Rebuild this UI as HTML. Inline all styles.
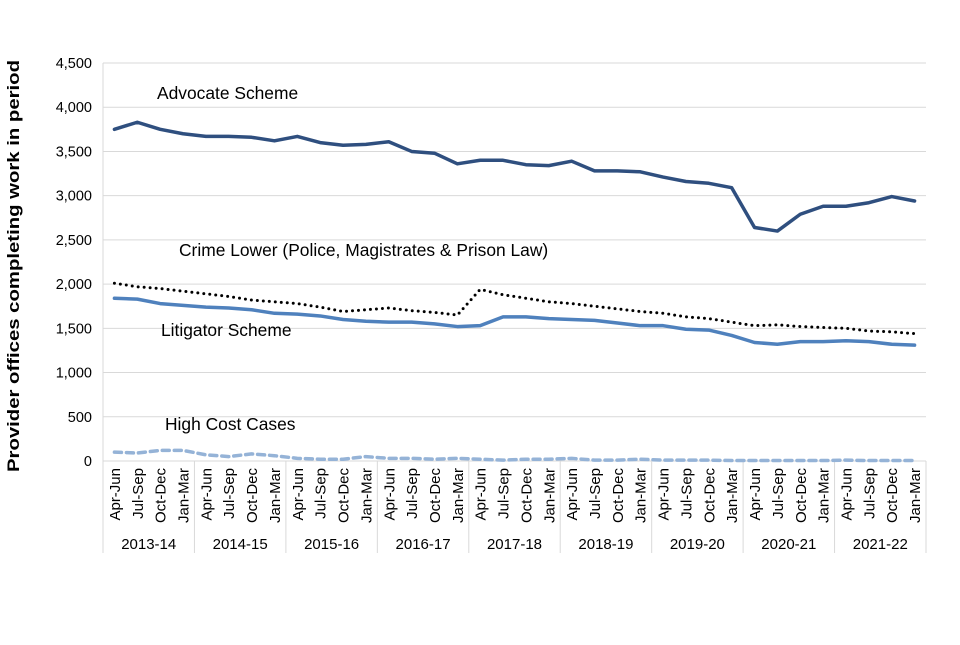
<!DOCTYPE html>
<html><head><meta charset="utf-8"><style>
body{margin:0;background:#fff;font-family:"Liberation Sans",Arial,sans-serif}
svg text{font-family:"Liberation Sans",Arial,sans-serif}
</style></head><body>
<svg id="c" width="960" height="640" xmlns="http://www.w3.org/2000/svg"></svg>
<script>
const quarters=["Apr-Jun","Jul-Sep","Oct-Dec","Jan-Mar"];
const years=["2013-14","2014-15","2015-16","2016-17","2017-18","2018-19","2019-20","2020-21","2021-22"];
const yTicks=[0,500,1000,1500,2000,2500,3000,3500,4000,4500];
const advocate=[3750,3830,3750,3700,3670,3670,3660,3620,3670,3600,3570,3580,3610,3500,3480,3360,3400,3400,3350,3340,3390,3280,3280,3270,3210,3160,3140,3090,2640,2600,2790,2880,2880,2920,2990,2940];
const crimeLower=[2010,1970,1950,1920,1890,1860,1820,1800,1780,1740,1690,1710,1730,1700,1680,1650,1940,1880,1840,1800,1780,1750,1720,1690,1670,1630,1610,1570,1530,1540,1520,1510,1500,1470,1460,1440];
const litigator=[1840,1830,1780,1760,1740,1730,1710,1670,1660,1640,1600,1580,1570,1570,1550,1520,1530,1630,1630,1610,1600,1590,1560,1530,1530,1490,1480,1420,1340,1320,1350,1350,1360,1350,1320,1310];
const highCost=[100,90,120,120,70,50,80,60,30,20,20,50,30,30,20,30,20,10,20,20,30,10,10,20,10,10,10,5,5,5,5,5,10,5,5,5];

const svg=document.getElementById('c');
const NS="http://www.w3.org/2000/svg";
const L=103,R=926,T=63,B=461,N=36,cw=(R-L)/N;
const x=i=>L+cw*(i+0.5);
const y=v=>B-(v/4500)*(B-T);
function mk(tag,attrs,parent){const e=document.createElementNS(NS,tag);for(const k in attrs)e.setAttribute(k,attrs[k]);(parent||svg).appendChild(e);return e;}

yTicks.forEach(t=>{
  const g=mk('line',{x1:L,x2:R,y1:y(t),y2:y(t),stroke:'#d9d9d9','stroke-width':1});
  
  
  const tx=mk('text',{x:92,y:y(t)+5,'text-anchor':'end','font-size':14.5,fill:'#000'});
  tx.textContent=t.toLocaleString('en-GB');
  
  
});
mk('line',{x1:L,x2:L,y1:T,y2:553,stroke:'#d9d9d9'});
mk('line',{x1:R,x2:R,y1:B,y2:553,stroke:'#d9d9d9'});
years.forEach((yr,k)=>{
  if(k>0){const s=mk('line',{x1:L+cw*4*k,x2:L+cw*4*k,y1:B,y2:553,stroke:'#d9d9d9'});
  }
  const t=mk('text',{x:L+cw*(4*k+2),y:549,'text-anchor':'middle','font-size':15});
  t.textContent=yr;
  
  
});
for(let i=0;i<N;i++){
  const t=mk('text',{transform:`translate(${x(i)+5.5},468) rotate(-90)`,'text-anchor':'end','font-size':15});
  t.textContent=quarters[i%4];
  
  
}
function line(data,color,w,dash,cap,name){
  const p=mk('polyline',{points:data.map((v,i)=>x(i)+','+y(v)).join(' '),fill:'none',stroke:color,'stroke-width':w,'stroke-linejoin':'round','stroke-linecap':cap});
  if(dash)p.setAttribute('stroke-dasharray',dash);
  
  
}
line(highCost,'#95b3d7',3.5,'7 5','round','high-cost-line');
line(litigator,'#4f81bd',3.5,null,'round','litigator-line');
line(crimeLower,'#000',3,'0 6','round','crime-lower-line');
line(advocate,'#2f4f7f',3.5,null,'round','advocate-line');

function lab(t,xx,yy,name){const e=mk('text',{x:xx,y:yy,'font-size':17.4});e.textContent=t;}
lab('Advocate Scheme',157,99,'advocate-label');
lab('Crime Lower (Police, Magistrates & Prison Law)',179,256,'crime-lower-label');
lab('Litigator Scheme',161,336,'litigator-label');
lab('High Cost Cases',165,430,'high-cost-label');
const yt=mk('text',{transform:'translate(19,266) rotate(-90)','text-anchor':'middle','font-size':16.5,'font-weight':'bold',textLength:412,lengthAdjust:'spacingAndGlyphs'});
yt.textContent='Provider offices completing work in period';


</script>
</body></html>
